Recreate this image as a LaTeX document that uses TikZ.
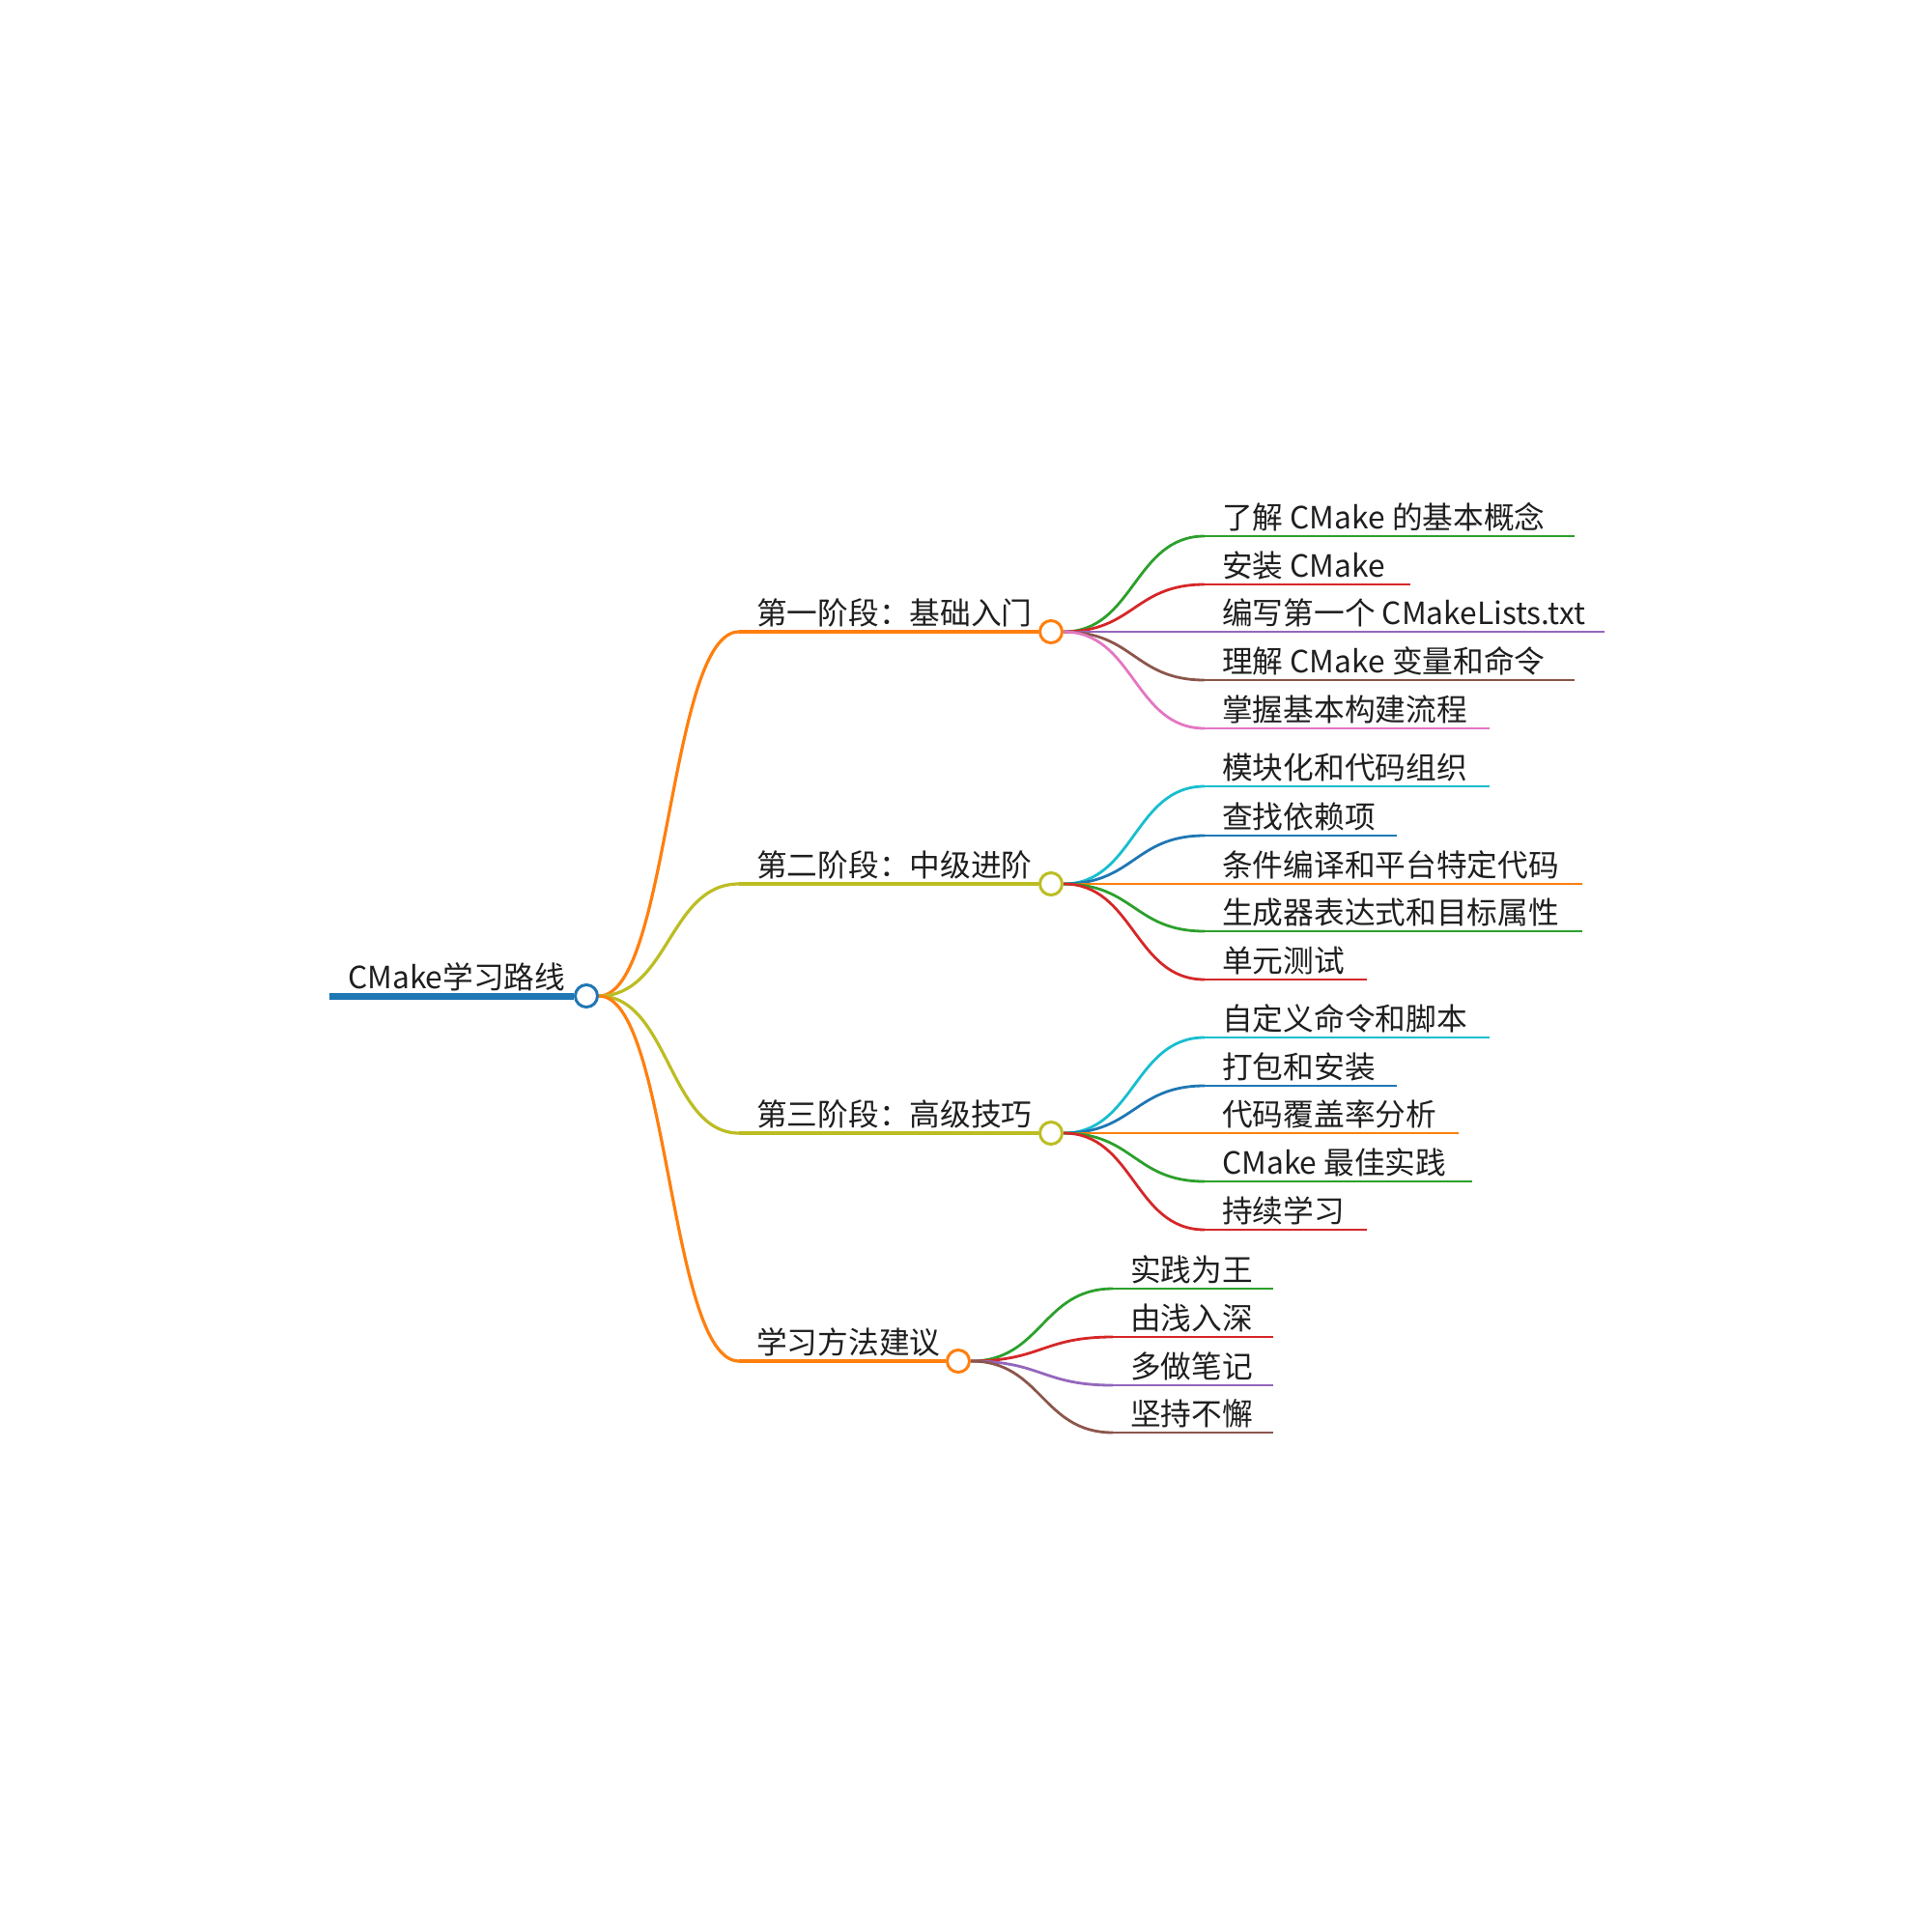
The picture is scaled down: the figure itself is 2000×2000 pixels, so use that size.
\documentclass[tikz,border=0pt]{standalone}
\usepackage{fontspec}
\setmainfont{Noto Sans CJK SC}
\usetikzlibrary{calc}
\pgfdeclarelayer{back}
\pgfdeclarelayer{bg}
\pgfsetlayers{back,bg,main}
\definecolor{cblue}{HTML}{1F77B4}
\definecolor{corange}{HTML}{FF7F0E}
\definecolor{cgreen}{HTML}{2CA02C}
\definecolor{cred}{HTML}{D62728}
\definecolor{cpurple}{HTML}{9467BD}
\definecolor{cbrown}{HTML}{8C564B}
\definecolor{cpink}{HTML}{E377C2}
\definecolor{colive}{HTML}{BCBD22}
\definecolor{ccyan}{HTML}{17BECF}
\tikzset{
  lbl/.style={anchor=base west, inner sep=0pt, font=\fontsize{31.7}{38}\selectfont, text=black!88},
  knob/.style={circle, draw, fill=white, line width=3pt, minimum size=23pt, inner sep=0pt},
  trunk/.style={line width=3.2pt},
  twig/.style={line width=2.8pt},
}
\newcommand\curveto[3]{%
  \draw[#1] (#2) .. controls ($(#2)!0.5!(#2 -| #3)$) and ($(#3)!0.5!(#3 -| #2)$) .. (#3);}
% #1 name, #2 parent knob, #3 colour, #4 y, #5 x start, #6 x end, #7 text
\newcommand\leaf[7]{%
  \coordinate (#1s) at (#5,#4);
  \coordinate (#1e) at (#6,#4);
  \node[lbl] (#1) at ($(#1s)+(18,-8)$) {#7};
  \begin{pgfonlayer}{bg}
    \draw[twig,#3] (#1s) -- (#1e);
    \curveto{twig,#3}{#2.east}{#1s}
  \end{pgfonlayer}
}
% #1 name, #2 colour, #3 y, #4 knob x, #5 text
\newcommand\stage[5]{%
  \coordinate (#1s) at (765,#3);
  \node[knob,draw=#2] (#1k) at (#4,#3) {};
  \node[lbl] (#1) at ($(#1s)+(18,-8)$) {#5};
  \begin{pgfonlayer}{bg}
    \draw[trunk,#2] (#1s) -- (#1k.west);
    \curveto{trunk,#2}{rk.east}{#1s}
  \end{pgfonlayer}
}
\begin{document}
\begin{tikzpicture}[x=1pt,y=-1pt]
\begin{pgfonlayer}{back}
\fill[white] (0,0) rectangle (2000,2000);
\end{pgfonlayer}
\useasboundingbox (0,0) rectangle (2000,2000);
% root
\coordinate (rs) at (341,1031);
\node[knob,draw=cblue] (rk) at (607,1031) {};
\node[lbl] (root) at ($(rs)+(19,-8)$) {CMake学习路线};
\begin{pgfonlayer}{bg}
  \draw[line width=7pt,cblue] (rs) -- (rk.west);
\end{pgfonlayer}
% stages
\stage{sa}{corange}{654}{1088}{第一阶段：基础入门}
\stage{sb}{colive}{915}{1088}{第二阶段：中级进阶}
\stage{sc}{colive}{1173}{1088}{第三阶段：高级技巧}
\stage{sd}{corange}{1409}{992}{学习方法建议}
% stage 1
\leaf{a1}{sak}{cgreen}{555}{1247}{1630}{了解 CMake 的基本概念}
\leaf{a2}{sak}{cred}{605}{1247}{1460}{安装 CMake}
\leaf{a3}{sak}{cpurple}{654}{1247}{1661}{编写第一个 CMakeLists.txt}
\leaf{a4}{sak}{cbrown}{704}{1247}{1630}{理解 CMake 变量和命令}
\leaf{a5}{sak}{cpink}{754}{1247}{1542}{掌握基本构建流程}
% stage 2
\leaf{b1}{sbk}{ccyan}{814}{1247}{1542}{模块化和代码组织}
\leaf{b2}{sbk}{cblue}{865}{1247}{1446}{查找依赖项}
\leaf{b3}{sbk}{corange}{915}{1247}{1638}{条件编译和平台特定代码}
\leaf{b4}{sbk}{cgreen}{964}{1247}{1638}{生成器表达式和目标属性}
\leaf{b5}{sbk}{cred}{1014}{1247}{1415}{单元测试}
% stage 3
\leaf{c1}{sck}{ccyan}{1074}{1247}{1542}{自定义命令和脚本}
\leaf{c2}{sck}{cblue}{1124}{1247}{1446}{打包和安装}
\leaf{c3}{sck}{corange}{1173}{1247}{1510}{代码覆盖率分析}
\leaf{c4}{sck}{cgreen}{1223}{1247}{1524}{CMake 最佳实践}
\leaf{c5}{sck}{cred}{1273}{1247}{1415}{持续学习}
% stage 4
\leaf{d1}{sdk}{cgreen}{1334}{1152}{1318}{实践为王}
\leaf{d2}{sdk}{cred}{1384}{1152}{1318}{由浅入深}
\leaf{d3}{sdk}{cpurple}{1434}{1152}{1318}{多做笔记}
\leaf{d4}{sdk}{cbrown}{1483}{1152}{1318}{坚持不懈}
\end{tikzpicture}
\end{document}
